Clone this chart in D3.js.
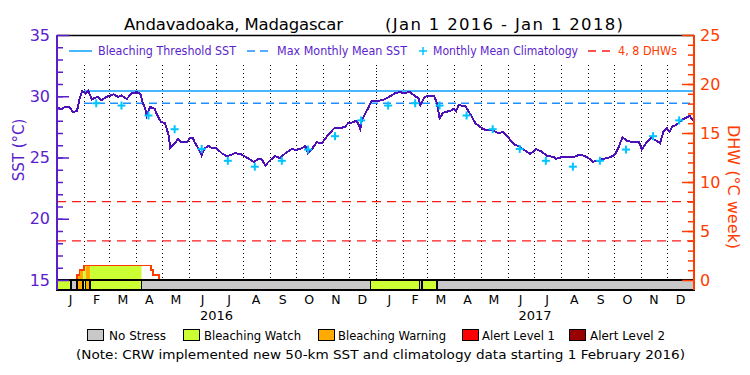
<!DOCTYPE html>
<html><head><meta charset="utf-8">
<script src="https://cdn.jsdelivr.net/npm/d3@7"></script>
<style>body{margin:0;background:#fff} svg{display:block} text{font-family:"DejaVu Sans",sans-serif}</style>
</head><body><svg id="c" width="750" height="375"></svg>
<script>
// ---- data ----
const periodStart = "2016-01-01", periodEnd = "2018-01-01";
// daily SST, sampled: days since 2016-01-01 and °C
const sstDays = [0,5,9,15,18,23,26,29,33,36,40,44,47,51,57,65,70,74,80,86,90,91,96,98,101,103,107,112,114,119,124,128,130,135,139,142,150,152,156,158,162,166,169,174,178,183,189,195,200,204,210,216,222,226,231,235,239,244,250,256,262,269,275,281,285,288,292,298,304,311,319,325,331,334,340,344,348,350,353,357,361,365,
374,378,384,388,394,397,405,411,415,417,422,428,433,436,439,443,448,453,455,458,461,464,468,472,476,480,485,491,497,503,506,512,517,524,529,535,543,550,556,562,570,573,579,585,593,598,604,610,615,621,627,635,640,644,649,654,661,668,671,677,682,688,692,696,700,703,706,711,717,721,726,728,731];
const sstValues = [29.08,28.94,29.13,29.08,28.70,28.81,29.84,30.44,30.22,30.44,29.73,29.89,29.95,29.67,29.95,30.16,29.95,30.06,29.78,30.25,30.27,30.38,30.16,29.57,29.02,28.43,29.13,28.97,28.62,27.93,27.80,26.85,25.76,26.17,26.50,26.25,26.30,26.58,26.58,26.25,25.76,25.16,25.71,25.95,25.76,25.76,25.35,25.11,25.22,25.35,25.30,25.08,24.81,24.62,24.89,24.84,24.35,24.73,25.11,24.95,25.35,25.68,25.63,25.76,25.95,25.35,25.63,26.25,26.17,26.85,27.45,27.39,27.53,27.80,27.88,28.02,27.34,28.07,28.48,29.02,29.62,29.62,
29.67,29.84,30.06,30.27,30.33,30.27,30.33,30.00,29.84,29.29,29.95,30.06,30.00,29.43,28.21,28.64,28.75,28.86,28.97,28.80,29.29,29.24,29.24,28.80,28.34,27.80,27.53,27.26,27.26,27.12,26.99,27.07,26.71,26.09,25.95,25.68,25.30,25.68,25.49,25.16,25.03,24.89,25.03,25.00,25.03,25.19,25.16,24.95,24.65,24.73,24.89,25.03,25.22,25.76,26.66,26.36,26.25,26.25,25.63,26.30,26.58,26.36,26.17,27.12,27.39,27.12,27.53,27.67,28.07,28.21,28.40,28.21,27.99];
// monthly mean climatology Jan..Dec (°C), shown from Feb 2016
const climMonths = ["J","F","M","A","M","J","J","A","S","O","N","D"];
const climValues = [29.24,29.43,29.24,28.43,27.31,25.70,24.73,24.25,24.73,25.65,26.74,28.03];
const climFirstMonth = "2016-02-01";
const maxMonthlyMean = 29.43;
const bleachingThreshold = 30.43;
const dhwRefLevels = [4, 8];
// DHW (°C-weeks)
const dhwDates = ["2016-01-24","2016-01-24","2016-01-27","2016-02-01","2016-04-18","2016-04-20","2016-04-27"];
const dhwValues = [0,0.5,1.0,1.5,1.0,0.5,0];
// stress level periods (0 none .. 4 alert 2)
const stressStarts = ["2016-01-01","2016-01-17","2016-01-24","2016-01-31","2016-02-03","2016-02-08","2016-04-07","2016-12-26","2017-02-20","2017-02-23","2017-03-12"];
const stressLevels = [1,0,2,1,2,1,0,1,0,1,0];
const stressNames = ["No Stress","Bleaching Watch","Bleaching Warning","Alert Level 1","Alert Level 2"];
const stressColors = ["#c8c8c8","#ccff33","#ffaa00","#ff0000","#990000"];
const monthLetters = ["J","F","M","A","M","J","J","A","S","O","N","D"];
const yearLabels = ["2016","2017"];
const sstTicks = [15,20,25,30,35];
const dhwTicks = [0,5,10,15,20,25];
const titleText = "Andavadoaka, Madagascar";
const periodText = "(Jan 1 2016 - Jan 1 2018)";
const noteText = "(Note: CRW implemented new 50-km SST and climatology data starting 1 February 2016)";

// ---- styles ----
const PURPLE = "#5a1ecc", LINE = "#4c0fb8", BLUE = "#0aa0ff", BLUE2 = "#1e90ff", CYAN = "#00c4ff", RED = "#ff3c00", DRED = "#ff1a1a";
const L = 57, R = 694, T = 35, B0 = 280, B1 = 290;

const svg = d3.select("#c");
const parse = d3.utcParse("%Y-%m-%d");
const x = d3.scaleUtc().domain([parse(periodStart), parse(periodEnd)]).range([L, R]);
const y = d3.scaleLinear().domain([15, 35]).range([B0, T]);
const yd = d3.scaleLinear().domain([0, 25]).range([B0, T]);
const dayDate = d => d3.utcDay.offset(parse(periodStart), d);

// month dotted lines
const months = d3.utcMonth.range(parse(periodStart), parse(periodEnd));
svg.append("g").selectAll("line").data(months.slice(1)).join("line")
  .attr("x1", d => Math.round(x(d)) + 0.5).attr("x2", d => Math.round(x(d)) + 0.5)
  .attr("y1", 65).attr("y2", B0)
  .attr("stroke", "#000").attr("stroke-width", 1)
  .attr("stroke-dasharray", d => d.getUTCMonth() === 0 ? "1,2" : "1,3");

// DHW fills coloured by stress level
const dhw = dhwDates.map((d, i) => ({date: parse(d), v: dhwValues[i]}));
const segs = stressStarts.map((s, i) => ({
  start: parse(s), end: i < stressStarts.length - 1 ? parse(stressStarts[i + 1]) : parse(periodEnd), level: stressLevels[i]}));
const defs = svg.append("defs");
const area = d3.area().curve(d3.curveStepAfter).x(d => x(d.date)).y0(yd(0)).y1(d => yd(d.v));
segs.forEach((s, i) => {
  if (s.level === 0) return;
  defs.append("clipPath").attr("id", "clip" + i).append("rect")
    .attr("x", x(s.start)).attr("width", x(s.end) - x(s.start)).attr("y", T).attr("height", B0 - T);
  svg.append("path").datum(dhw).attr("d", area).attr("fill", stressColors[s.level])
    .attr("clip-path", `url(#clip${i})`).attr("shape-rendering", "crispEdges");
});
// DHW line
svg.append("path").datum(dhw).attr("d", d3.line().curve(d3.curveStepAfter).x(d => x(d.date)).y(d => yd(d.v)))
  .attr("fill", "none").attr("stroke", RED).attr("stroke-width", 1.5).attr("shape-rendering", "crispEdges");

// stress bar
svg.append("g").selectAll("rect").data(segs).join("rect")
  .attr("x", d => x(d.start)).attr("width", d => x(d.end) - x(d.start))
  .attr("y", B0).attr("height", B1 - B0)
  .attr("fill", d => stressColors[d.level]).attr("stroke", "#000").attr("stroke-width", 1.3)
  .attr("shape-rendering", "crispEdges");

// reference lines
dhwRefLevels.forEach(v => {
  svg.append("line").attr("x1", L).attr("x2", R).attr("y1", yd(v)).attr("y2", yd(v))
    .attr("stroke", DRED).attr("stroke-width", 1.3).attr("stroke-dasharray", "9,6");
});
svg.append("line").attr("x1", x(parse(climFirstMonth))).attr("x2", R).attr("y1", y(maxMonthlyMean)).attr("y2", y(maxMonthlyMean))
  .attr("stroke", BLUE2).attr("stroke-width", 1.5).attr("stroke-dasharray", "8,5");
svg.append("line").attr("x1", x(parse(climFirstMonth))).attr("x2", R).attr("y1", y(bleachingThreshold)).attr("y2", y(bleachingThreshold))
  .attr("stroke", BLUE).attr("stroke-width", 1.5);

// SST line
const sst = sstDays.map((d, i) => ({date: dayDate(d), v: sstValues[i]}));
svg.append("path").datum(sst)
  .attr("d", d3.line().x(d => x(d.date)).y(d => y(d.v)))
  .attr("fill", "none").attr("stroke", LINE).attr("stroke-width", 2).attr("shape-rendering", "crispEdges");

// climatology crosses
const climPts = d3.utcMonth.range(parse(climFirstMonth), parse(periodEnd))
  .map(m => ({date: d3.utcDay.offset(m, 14), v: climValues[m.getUTCMonth()]}));
const cg = svg.append("g").attr("stroke", CYAN).attr("stroke-width", 2);
climPts.forEach(p => {
  const cx = x(p.date), cy = y(p.v);
  cg.append("line").attr("x1", cx - 4).attr("x2", cx + 4).attr("y1", cy).attr("y2", cy);
  cg.append("line").attr("x1", cx).attr("x2", cx).attr("y1", cy - 4).attr("y2", cy + 4);
});

// frame & axes
svg.append("line").attr("x1", L).attr("x2", R).attr("y1", T + 0.5).attr("y2", T + 0.5).attr("stroke", "#000").attr("stroke-width", 1.5);
const lAx = svg.append("g").attr("transform", `translate(${L},0)`)
  .call(d3.axisLeft(y).tickValues(sstTicks).tickSize(-12).tickSizeOuter(0).tickPadding(7));
lAx.select(".domain").remove();
lAx.selectAll("line").attr("stroke", PURPLE).attr("stroke-width", 1.5);
lAx.selectAll("text").attr("fill", PURPLE).attr("font-size", 16).attr("font-family", "DejaVu Sans");
const lMin = svg.append("g").attr("transform", `translate(${L},0)`)
  .call(d3.axisLeft(y).tickValues(d3.range(16, 35)).tickSize(-6).tickSizeOuter(0).tickFormat(""));
lMin.select(".domain").remove();
lMin.selectAll("line").attr("stroke", PURPLE).attr("stroke-width", 1.5);
svg.append("line").attr("x1", L).attr("x2", L).attr("y1", T).attr("y2", B1).attr("stroke", PURPLE).attr("stroke-width", 2);

const rAx = svg.append("g").attr("transform", `translate(${R},0)`)
  .call(d3.axisRight(yd).tickValues(dhwTicks).tickSize(-12).tickSizeOuter(0).tickPadding(6));
rAx.select(".domain").remove();
rAx.selectAll("line").attr("stroke", RED).attr("stroke-width", 1.5);
rAx.selectAll("text").attr("fill", RED).attr("font-size", 16).attr("font-family", "DejaVu Sans");
const rMin = svg.append("g").attr("transform", `translate(${R},0)`)
  .call(d3.axisRight(yd).tickValues(d3.range(1, 25)).tickSize(-6).tickSizeOuter(0).tickFormat(""));
rMin.select(".domain").remove();
rMin.selectAll("line").attr("stroke", RED).attr("stroke-width", 1.5);
svg.append("line").attr("x1", R).attr("x2", R).attr("y1", T).attr("y2", B1).attr("stroke", RED).attr("stroke-width", 2);

// axis titles
svg.append("text").attr("transform", "translate(24,150) rotate(-90)").attr("text-anchor", "middle")
  .attr("fill", PURPLE).attr("font-size", 15).text("SST (°C)");
svg.append("text").attr("transform", "translate(728,187) rotate(90)").attr("text-anchor", "middle")
  .attr("fill", RED).attr("font-size", 16).text("DHW (°C week)");

// month letters and years
svg.append("g").selectAll("text").data(months).join("text")
  .attr("x", d => (x(d) + x(d3.utcMonth.offset(d, 1))) / 2).attr("y", 304)
  .attr("text-anchor", "middle").attr("font-size", 12.5).attr("fill", "#000")
  .text(d => monthLetters[d.getUTCMonth()]);
svg.append("g").selectAll("text").data(yearLabels).join("text")
  .attr("x", d => (x(parse(d + "-01-01")) + x(parse((+d + 1) + "-01-01"))) / 2).attr("y", 320)
  .attr("text-anchor", "middle").attr("font-size", 13).attr("fill", "#000").text(d => d);

// title
svg.append("text").attr("x", 124).attr("y", 30).attr("font-size", 16.5).attr("textLength", 219).attr("fill", "#000").text(titleText);
svg.append("text").attr("x", 385).attr("y", 30).attr("font-size", 16.5).attr("textLength", 238).attr("fill", "#000").text(periodText);

// top legend
const lg = svg.append("g");
lg.append("line").attr("x1", 69).attr("x2", 92).attr("y1", 51).attr("y2", 51).attr("stroke", BLUE).attr("stroke-width", 1.5);
lg.append("text").attr("x", 98).attr("y", 55).attr("font-size", 11.5).attr("textLength", 138).attr("lengthAdjust", "spacingAndGlyphs").attr("fill", PURPLE).text("Bleaching Threshold SST");
lg.append("line").attr("x1", 247).attr("x2", 268).attr("y1", 51).attr("y2", 51).attr("stroke", BLUE2).attr("stroke-width", 1.5).attr("stroke-dasharray", "8,5");
lg.append("text").attr("x", 277).attr("y", 55).attr("font-size", 11.5).attr("textLength", 130).attr("lengthAdjust", "spacingAndGlyphs").attr("fill", PURPLE).text("Max Monthly Mean SST");
lg.append("line").attr("x1", 419).attr("x2", 427).attr("y1", 51).attr("y2", 51).attr("stroke", CYAN).attr("stroke-width", 1.5);
lg.append("line").attr("x1", 423).attr("x2", 423).attr("y1", 47).attr("y2", 55).attr("stroke", CYAN).attr("stroke-width", 1.5);
lg.append("text").attr("x", 433).attr("y", 55).attr("font-size", 11.5).attr("textLength", 145).attr("lengthAdjust", "spacingAndGlyphs").attr("fill", PURPLE).text("Monthly Mean Climatology");
lg.append("line").attr("x1", 588).attr("x2", 612).attr("y1", 51).attr("y2", 51).attr("stroke", DRED).attr("stroke-width", 1.5).attr("stroke-dasharray", "8,6");
lg.append("text").attr("x", 618).attr("y", 55).attr("font-size", 11.5).attr("textLength", 59).attr("lengthAdjust", "spacingAndGlyphs").attr("fill", RED).text("4, 8 DHWs");

// bottom legend
const boxX = [87, 183, 318, 462, 569];
const textX = [109, 204, 338, 482, 590];
const textW = [57, 97, 108, 73, 75];
const bl = svg.append("g");
stressNames.forEach((n, i) => {
  bl.append("rect").attr("x", boxX[i] + 0.5).attr("y", 329.5).attr("width", 16).attr("height", 11)
    .attr("fill", stressColors[i]).attr("stroke", "#000").attr("stroke-width", 1);
  bl.append("text").attr("x", textX[i]).attr("y", 340).attr("font-size", 13).attr("textLength", textW[i])
    .attr("lengthAdjust", "spacingAndGlyphs").attr("fill", "#000").text(n);
});
svg.append("text").attr("x", 76).attr("y", 359).attr("font-size", 13).attr("textLength", 609)
  .attr("lengthAdjust", "spacingAndGlyphs").attr("fill", "#000").text(noteText);
</script></body></html>
